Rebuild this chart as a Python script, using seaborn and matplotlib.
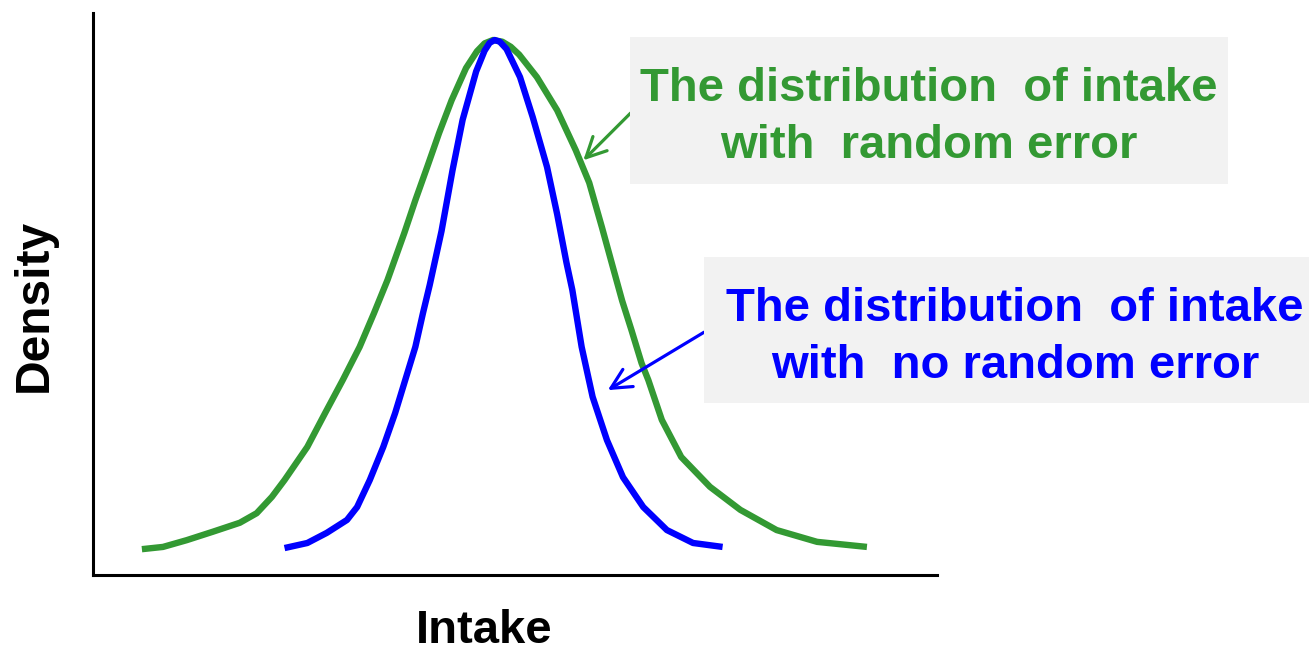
import numpy as np
import pandas as pd
import matplotlib
matplotlib.use('Agg')
import matplotlib.pyplot as plt
import matplotlib.patches as mpatches
import seaborn as sns

# curves (intake and density in arbitrary units, axes 0-100)
green_x = [5.8, 8.3, 11.1, 14.2, 17.4, 19.4, 21.2, 22.7, 25.4, 27.5, 29.6, 31.6, 33.3, 34.9,
           36.9, 38.2, 39.6, 41.0, 42.5, 44.2, 45.5, 46.4, 47.4, 48.5, 49.5, 50.5, 52.6,
           55.0, 57.2, 58.8, 60.3, 61.8, 62.7, 63.8, 65.0, 65.8, 67.4, 69.7, 73.1, 76.7,
           81.0, 85.8, 91.7]
green_y = [4.6, 5.0, 6.2, 7.7, 9.3, 11.0, 13.9, 16.9, 22.8, 28.8, 34.7, 40.6, 46.6, 52.5,
           60.9, 66.7, 72.6, 78.6, 84.5, 90.2, 93.2, 94.6, 95.2, 94.9, 94.0, 92.6, 88.6,
           82.7, 75.6, 69.8, 61.9, 53.7, 48.8, 43.6, 37.7, 34.7, 27.6, 21.0, 15.7, 11.6,
           8.0, 5.9, 5.0]

blue_x = [22.7, 25.4, 27.7, 30.1, 31.3, 32.8, 34.4, 35.8, 37.0, 38.2, 39.1, 39.9, 41.3, 42.6,
          43.8, 45.4, 46.4, 47.0, 47.6, 48.2, 49.0, 50.6, 52.1, 53.8, 55.0, 56.1, 56.8,
          57.9, 59.2, 60.9, 62.8, 65.2, 68.0, 71.1, 74.6]
blue_y = [4.8, 5.7, 7.5, 9.8, 12.1, 16.9, 22.8, 28.8, 34.7, 40.6, 46.6, 51.6, 61.2, 72.0,
          81.0, 89.6, 93.3, 94.7, 95.2, 94.9, 93.6, 88.6, 81.5, 72.6, 64.2, 55.6, 50.7,
          40.6, 31.7, 24.0, 17.4, 12.1, 8.0, 5.7, 5.0]

green_label = ['The distribution  of intake', 'with  random error']
blue_label = ['The distribution  of intake', 'with  no random error']

green = '#339933'
blue = '#0000ff'
box_color = '#f2f2f2'

sns.set_style('white')
plt.rcParams['font.family'] = ['Liberation Sans', 'DejaVu Sans']

df_green = pd.DataFrame({'x': green_x, 'y': green_y})
df_blue = pd.DataFrame({'x': blue_x, 'y': blue_y})

fig = plt.figure(figsize=(13.09, 6.55), dpi=100)
ax = fig.add_axes([0.0710, 0.1221, 0.6448, 0.8580])

sns.lineplot(data=df_green, x='x', y='y', color=green, linewidth=4.6, sort=False,
             estimator=None, ax=ax, solid_capstyle='butt', solid_joinstyle='round')
sns.lineplot(data=df_blue, x='x', y='y', color=blue, linewidth=4.6, sort=False,
             estimator=None, ax=ax, solid_capstyle='butt', solid_joinstyle='round')

ax.set_xlim(0, 100)
ax.set_ylim(0, 100)
ax.set_xticks([])
ax.set_yticks([])
for s in ['top', 'right']:
    ax.spines[s].set_visible(False)
for s in ['left', 'bottom']:
    ax.spines[s].set_color('black')
    ax.spines[s].set_linewidth(2.2)

ax.set_xlabel('Intake', fontsize=34, fontweight='bold', color='black')
ax.xaxis.set_label_coords(0.464, -0.06)
ax.set_ylabel('Density', fontsize=34.5, fontweight='bold', color='black')
ax.yaxis.set_label_coords(-0.043, 0.48)

# arrows pointing at the curves
ax.annotate('', xy=(58.1, 73.8), xytext=(63.7, 82.2),
            arrowprops=dict(arrowstyle='->', color=green, lw=2.3, mutation_scale=36,
                            shrinkA=0, shrinkB=0), annotation_clip=False)
ax.annotate('', xy=(61.0, 32.9), xytext=(72.4, 43.2),
            arrowprops=dict(arrowstyle='->', color=blue, lw=2.3, mutation_scale=36,
                            shrinkA=0, shrinkB=0), annotation_clip=False)

# label boxes
fig.patches.append(mpatches.Rectangle((0.4813, 0.7191), 0.4568, 0.2244, transform=fig.transFigure,
                                      facecolor=box_color, edgecolor='none', zorder=0))
fig.patches.append(mpatches.Rectangle((0.5378, 0.3847), 0.4622, 0.2229, transform=fig.transFigure,
                                      facecolor=box_color, edgecolor='none', zorder=0))

for line, yb in zip(green_label, [0.8458, 0.7588]):
    fig.text(0.7097, yb, line, color=green, fontsize=34, fontweight='bold',
             ha='center', va='baseline')
for line, yb in zip(blue_label, [0.5099, 0.4229]):
    fig.text(0.7754, yb, line, color=blue, fontsize=34, fontweight='bold',
             ha='center', va='baseline')

plt.savefig('out.png', dpi=100)
